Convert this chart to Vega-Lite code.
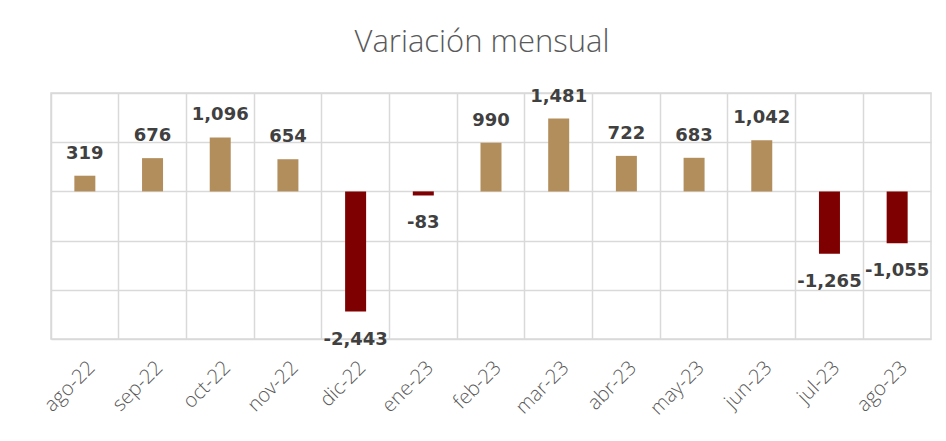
{
  "$schema": "https://vega.github.io/schema/vega-lite/v6.json",
  "width": 880,
  "height": 246,
  "autosize": {"type": "none"},
  "padding": {"left": 51, "top": 93, "right": 15, "bottom": 102},
  "background": "white",
  "title": {
    "text": "Variación mensual",
    "font": "Open Sans",
    "fontSize": 31,
    "fontWeight": 300,
    "color": "#595959",
    "anchor": "middle",
    "baseline": "alphabetic",
    "offset": 5,
    "dx": -9
  },
  "config": {
    "locale": {
      "number": {
        "decimal": ".",
        "thousands": ",",
        "grouping": [3],
        "currency": ["$", ""],
        "minus": "-"
      }
    },
    "view": {"stroke": "#d9d9d9", "strokeWidth": 1.5}
  },
  "data": {
    "values": [
      {"mes": "ago-22", "v": 319},
      {"mes": "sep-22", "v": 676},
      {"mes": "oct-22", "v": 1096},
      {"mes": "nov-22", "v": 654},
      {"mes": "dic-22", "v": -2443},
      {"mes": "ene-23", "v": -83},
      {"mes": "feb-23", "v": 990},
      {"mes": "mar-23", "v": 1481},
      {"mes": "abr-23", "v": 722},
      {"mes": "may-23", "v": 683},
      {"mes": "jun-23", "v": 1042},
      {"mes": "jul-23", "v": -1265},
      {"mes": "ago-23", "v": -1055}
    ]
  },
  "layer": [
    {
      "mark": {"type": "bar", "size": 21},
      "encoding": {
        "x": {
          "field": "mes",
          "type": "ordinal",
          "sort": null,
          "scale": {"paddingInner": 0, "paddingOuter": 0},
          "axis": {
            "title": null,
            "labelAngle": -45,
            "labelFont": "Open Sans",
            "labelFontSize": 20,
            "labelFontWeight": 300,
            "labelColor": "#595959",
            "labelPadding": 18,
            "ticks": false,
            "domain": false,
            "grid": false
          }
        },
        "y": {
          "field": "v",
          "type": "quantitative",
          "scale": {"domain": [-3000, 2000], "nice": false},
          "axis": {
            "title": null,
            "values": [-3000, -2000, -1000, 0, 1000, 2000],
            "labels": false,
            "ticks": false,
            "domain": false,
            "grid": true,
            "gridColor": "#d9d9d9",
            "gridWidth": 1.5
          }
        },
        "color": {
          "condition": {"test": "datum.v < 0", "value": "#7F0000"},
          "value": "#B38E5D"
        }
      }
    },
    {
      "transform": [{"filter": "datum.v >= 0"}],
      "mark": {
        "type": "text",
        "font": "DejaVu Sans",
        "fontWeight": "bold",
        "fontSize": 18,
        "color": "#404040",
        "baseline": "alphabetic",
        "align": "center",
        "dy": -17
      },
      "encoding": {
        "x": {
          "field": "mes",
          "type": "ordinal",
          "sort": null,
          "axis": {
            "orient": "top",
            "title": null,
            "labels": false,
            "ticks": false,
            "domain": false,
            "grid": true,
            "gridColor": "#d9d9d9",
            "gridWidth": 1.5,
            "bandPosition": 0
          }
        },
        "y": {"field": "v", "type": "quantitative"},
        "text": {"field": "v", "type": "quantitative", "format": ",d"}
      }
    },
    {
      "transform": [{"filter": "datum.v < 0"}],
      "mark": {
        "type": "text",
        "font": "DejaVu Sans",
        "fontWeight": "bold",
        "fontSize": 18,
        "color": "#404040",
        "baseline": "alphabetic",
        "align": "center",
        "dy": 33
      },
      "encoding": {
        "x": {"field": "mes", "type": "ordinal", "sort": null, "axis": null},
        "y": {"field": "v", "type": "quantitative"},
        "text": {"field": "v", "type": "quantitative", "format": ",d"}
      }
    }
  ],
  "resolve": {"axis": {"x": "independent"}}
}
